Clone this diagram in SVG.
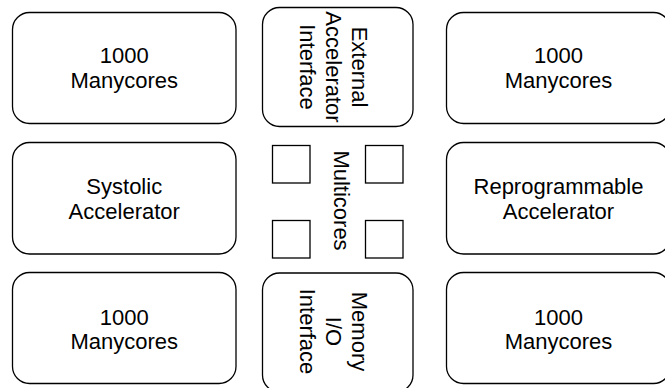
<svg xmlns="http://www.w3.org/2000/svg" width="665" height="388" viewBox="0 0 665 388">
  <style>
    .box { fill: #ffffff; stroke: #000000; stroke-width: 1.3; }
    .sq { fill: #ffffff; stroke: #000000; stroke-width: 1.3; }
    .lbl { font-family: "Liberation Sans", Helvetica, Arial, sans-serif; font-size: 22px; fill: #000000; text-anchor: middle; }
  </style>
  <rect x="0" y="0" width="665" height="388" fill="#ffffff"/>
  <g id="connectors"/>

  <g id="manycores-tl">
    <rect class="box" x="12.5" y="12.5" width="223.5" height="111" rx="17" ry="17"/>
    <text class="lbl" x="124.25" y="63">1000</text>
    <text class="lbl" x="124.25" y="88">Manycores</text>
  </g>

  <g id="systolic">
    <rect class="box" x="12.5" y="142.5" width="223.5" height="111.5" rx="17" ry="17"/>
    <text class="lbl" x="124.25" y="193.5">Systolic</text>
    <text class="lbl" x="124.25" y="219">Accelerator</text>
  </g>

  <g id="manycores-bl">
    <rect class="box" x="12.5" y="272.5" width="223.5" height="111" rx="17" ry="17"/>
    <text class="lbl" x="124.25" y="324.5">1000</text>
    <text class="lbl" x="124.25" y="348.5">Manycores</text>
  </g>

  <g id="manycores-tr">
    <rect class="box" x="446.5" y="12.5" width="224" height="111" rx="17" ry="17"/>
    <text class="lbl" x="558.5" y="63">1000</text>
    <text class="lbl" x="558.5" y="88">Manycores</text>
  </g>

  <g id="reprogrammable">
    <rect class="box" x="446.5" y="142.5" width="224" height="111.5" rx="17" ry="17"/>
    <text class="lbl" x="558.5" y="193.5">Reprogrammable</text>
    <text class="lbl" x="558.5" y="219">Accelerator</text>
  </g>

  <g id="manycores-br">
    <rect class="box" x="446.5" y="272.5" width="224" height="111" rx="17" ry="17"/>
    <text class="lbl" x="558.5" y="324.5">1000</text>
    <text class="lbl" x="558.5" y="348.5">Manycores</text>
  </g>

  <g id="external-accelerator-interface">
    <rect class="box" x="262.5" y="7.5" width="150.5" height="119" rx="17" ry="17"/>
    <text class="lbl" transform="translate(352,67) rotate(90)" x="0" y="0">External</text>
    <text class="lbl" transform="translate(326,67) rotate(90)" x="0" y="0">Accelerator</text>
    <text class="lbl" transform="translate(300,67) rotate(90)" x="0" y="0">Interface</text>
  </g>

  <g id="multicores">
    <rect class="sq" x="272.5" y="145.5" width="37.5" height="37.5"/>
    <rect class="sq" x="365.5" y="145.5" width="37.5" height="37.5"/>
    <rect class="sq" x="272.5" y="220.5" width="37.5" height="37.5"/>
    <rect class="sq" x="365.5" y="220.5" width="37.5" height="37.5"/>
    <text class="lbl" transform="translate(334,200.5) rotate(90)" x="0" y="0">Multicores</text>
  </g>

  <g id="memory-io-interface">
    <rect class="box" x="262.5" y="273" width="150.5" height="119" rx="17" ry="17"/>
    <text class="lbl" transform="translate(352,331.5) rotate(90)" x="0" y="0">Memory</text>
    <text class="lbl" transform="translate(326,331.5) rotate(90)" x="0" y="0">I/O</text>
    <text class="lbl" transform="translate(300,331.5) rotate(90)" x="0" y="0">Interface</text>
  </g>
</svg>
